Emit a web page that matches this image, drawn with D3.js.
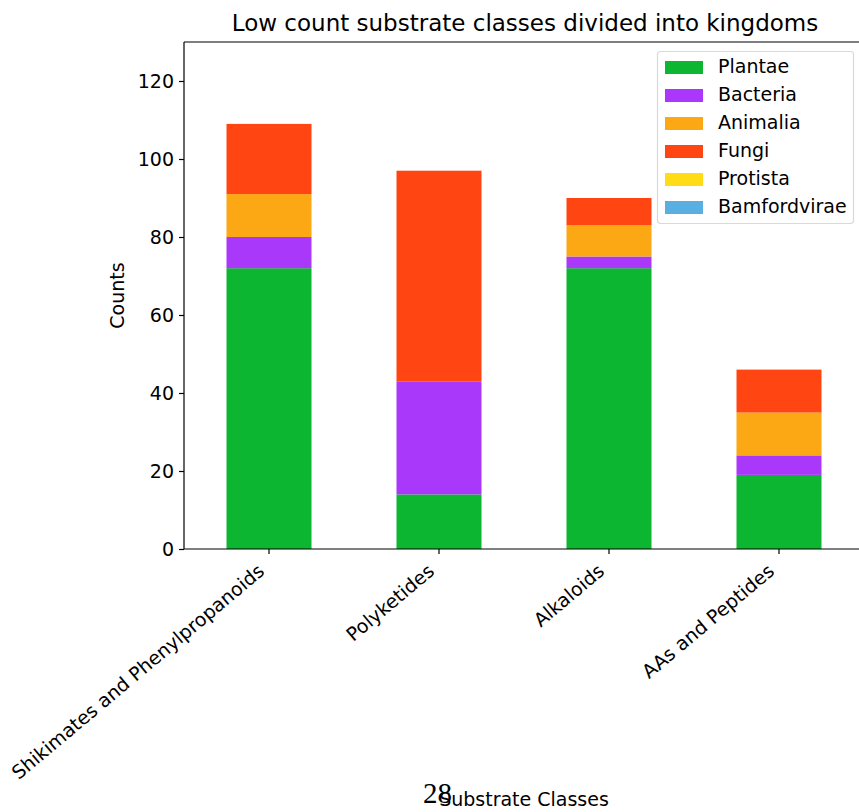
<!DOCTYPE html>
<html>
<head>
<meta charset="utf-8">
<script src="https://cdn.jsdelivr.net/npm/d3@7"></script>
<style>
  html, body { margin: 0; padding: 0; background: #fff; }
  svg { display: block; font-family: "DejaVu Sans", sans-serif; }
</style>
</head>
<body>
<svg id="chart" width="859" height="812"></svg>
<script>
// Substrate classes on the x axis
const categories = ["Shikimates and Phenylpropanoids", "Polyketides", "Alkaloids", "AAs and Peptides"];

// Kingdoms, stacked bottom to top
const kingdoms = ["Plantae", "Bacteria", "Animalia", "Fungi", "Protista", "Bamfordvirae"];
const kingdomColors = ["#0db630", "#aa38fa", "#fca814", "#ff4612", "#ffdc14", "#5aaee2"];

// Counts per kingdom, one value per substrate class
const plantae      = [72, 14, 72, 19];
const bacteria     = [8, 29, 3, 5];
const animalia     = [11, 0, 8, 11];
const fungi        = [18, 54, 7, 11];
const protista     = [0, 0, 0, 0];
const bamfordvirae = [0, 0, 0, 0];

const yTicks = [0, 20, 40, 60, 80, 100, 120];

const series = [plantae, bacteria, animalia, fungi, protista, bamfordvirae];
const rows = categories.map((c, i) => {
  const r = { category: c };
  kingdoms.forEach((k, j) => { r[k] = series[j][i]; });
  return r;
});

const svg = d3.select("#chart");
const plotLeft = 184, plotRight = 864, plotTop = 42, plotBottom = 549;

const x = d3.scaleBand()
  .domain(categories)
  .range([plotLeft, plotRight])
  .paddingInner(0.5)
  .paddingOuter(0.25);

const y = d3.scaleLinear().domain([0, 130]).range([plotBottom, plotTop]);
const color = d3.scaleOrdinal().domain(kingdoms).range(kingdomColors);

const stacked = d3.stack().keys(kingdoms)(rows);

// Bars
svg.append("g")
  .selectAll("g")
  .data(stacked)
  .join("g")
  .attr("fill", d => color(d.key))
  .selectAll("rect")
  .data(d => d)
  .join("rect")
  .attr("x", d => x(d.data.category))
  .attr("width", x.bandwidth())
  .attr("y", d => y(d[1]))
  .attr("height", d => y(d[0]) - y(d[1]));

// Axes
const fontSize = 19;
const yAxis = svg.append("g")
  .attr("transform", `translate(${plotLeft},0)`)
  .call(d3.axisLeft(y).tickValues(yTicks).tickSize(5).tickPadding(5));
const xAxis = svg.append("g")
  .attr("transform", `translate(0,${plotBottom})`)
  .call(d3.axisBottom(x).tickSize(5).tickPadding(5));

[yAxis, xAxis].forEach(g => {
  g.select(".domain").remove();
  g.selectAll(".tick line").attr("stroke", "#000").attr("stroke-width", 1.2);
  g.selectAll("text").attr("fill", "#000").style("font-size", fontSize + "px")
    .style("font-family", "'DejaVu Sans', sans-serif");
});

// Category labels rotated 40° and right-aligned under their ticks
xAxis.selectAll(".tick text")
  .attr("text-anchor", "end")
  .attr("dy", null)
  .attr("y", 0)
  .attr("transform", "translate(-7,20) rotate(-40)")
  .attr("dominant-baseline", "middle");

// Spines (left, bottom, top; the right one falls outside the canvas)
const spines = svg.append("g").attr("stroke", "#000").attr("stroke-width", 1.2).attr("fill", "none");
spines.append("line").attr("x1", plotLeft).attr("x2", plotLeft).attr("y1", plotTop).attr("y2", plotBottom);
spines.append("line").attr("x1", plotLeft).attr("x2", plotRight).attr("y1", plotBottom).attr("y2", plotBottom);
spines.append("line").attr("x1", plotLeft).attr("x2", plotRight).attr("y1", plotTop).attr("y2", plotTop);

// Title and axis labels
svg.append("text")
  .attr("x", (plotLeft + plotRight) / 2 + 1).attr("y", 31)
  .attr("text-anchor", "middle")
  .style("font-size", "23px")
  .text("Low count substrate classes divided into kingdoms");

svg.append("text")
  .attr("transform", `translate(124,${(plotTop + plotBottom) / 2}) rotate(-90)`)
  .attr("text-anchor", "middle")
  .style("font-size", fontSize + "px")
  .text("Counts");

svg.append("text")
  .attr("x", (plotLeft + plotRight) / 2).attr("y", 806)
  .attr("text-anchor", "middle")
  .style("font-size", fontSize + "px")
  .text("Substrate Classes");

// Page number
svg.append("text")
  .attr("x", 423).attr("y", 803)
  .style("font-family", "'Liberation Serif', 'DejaVu Serif', serif")
  .style("font-size", "29px")
  .text("28");

// Legend
const legend = svg.append("g");
legend.append("rect")
  .attr("x", 657.5).attr("y", 51.5).attr("width", 196).attr("height", 172)
  .attr("rx", 3).attr("fill", "#fff").attr("fill-opacity", 0.8)
  .attr("stroke", "#d9d9d9").attr("stroke-width", 1.2);

const item = legend.selectAll("g.item")
  .data(kingdoms)
  .join("g")
  .attr("class", "item")
  .attr("transform", (d, i) => `translate(665,${67 + i * 28})`);

item.append("rect")
  .attr("x", 0).attr("y", -6).attr("width", 38).attr("height", 13)
  .attr("fill", d => color(d));

item.append("text")
  .attr("x", 53).attr("y", 0)
  .attr("dominant-baseline", "middle")
  .style("font-size", fontSize + "px")
  .text(d => d);
</script>
</body>
</html>
